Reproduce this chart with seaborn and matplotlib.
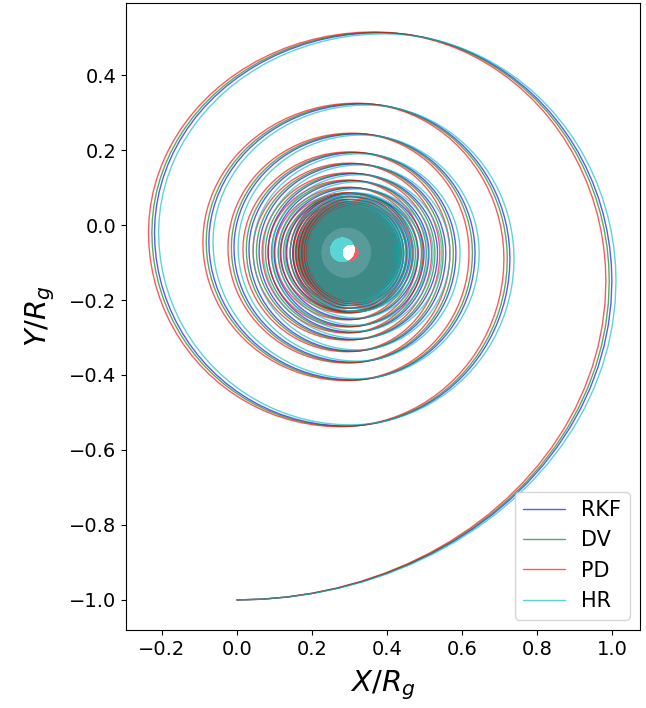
import numpy as np
import pandas as pd
import seaborn as sns
import matplotlib
matplotlib.use("Agg")
import matplotlib.pyplot as plt

sns.set_style("ticks", {"axes.edgecolor": "black", "xtick.color": "black",
                        "ytick.color": "black", "text.color": "black",
                        "axes.labelcolor": "black"})

# PD orbit, outer turns: extreme points
# order: start (bottom), then right, top, left, bottom for each turn
pd_ext_x = [0.000,
            0.984, 0.365, -0.236, 0.275,
            0.712, 0.318, -0.091, 0.292,
            0.619, 0.305, -0.024, 0.294,
            0.568, 0.300, 0.016, 0.294,
            0.541, 0.298, 0.043, 0.294,
            0.519, 0.296, 0.067, 0.293,
            0.496, 0.295, 0.083, 0.292,
            0.483, 0.294, 0.101, 0.292,
            0.467, 0.293, 0.115, 0.292]
pd_ext_y = [-1.000,
            -0.150, 0.515, -0.020, -0.538,
            -0.090, 0.325, -0.045, -0.415,
            -0.075, 0.245, -0.060, -0.368,
            -0.075, 0.195, -0.065, -0.338,
            -0.075, 0.165, -0.070, -0.307,
            -0.075, 0.139, -0.072, -0.288,
            -0.075, 0.120, -0.073, -0.272,
            -0.075, 0.101, -0.074, -0.253,
            -0.075, 0.085, -0.074, -0.235]

methods = ['RKF', 'DV', 'PD', 'HR']
colors = ['b', 'g', 'r', 'c']
# offset of each method from PD on the outer turns
shift_x = [0.016, 0.009, 0.0, 0.027]
shift_ry = [-0.002, -0.001, 0.0, -0.005]

# inner part: orbit radius vs turn number
core_turn = [9, 10, 11, 12, 13, 15, 18, 22, 28, 36, 48, 60, 85, 120, 160, 240]
core_r = [0.175, 0.163, 0.153, 0.145, 0.138, 0.128, 0.118, 0.108, 0.097,
          0.087, 0.077, 0.069, 0.055, 0.043, 0.036, 0.024]

# final centre and radius of each method
end_x = [0.292, 0.290, 0.281, 0.303]
end_y = [-0.074, -0.074, -0.066, -0.074]
end_r = [0.069, 0.069, 0.036, 0.024]


def extremes(k):
    ex = np.array(pd_ext_x, dtype=float)
    ey = np.array(pd_ext_y, dtype=float)
    ex[1:] += shift_x[k]
    idx = np.arange(len(ey))
    ey[(idx % 4 == 2)] += shift_ry[k]
    ey[(idx % 4 == 0) & (idx > 0)] -= shift_ry[k]

    cx0 = (ex[-4] + ex[-2]) / 2
    cy0 = (ey[-3] + ey[-1]) / 2
    t_end = np.interp(end_r[k], core_r[::-1], core_turn[::-1])
    q = np.arange(40, int(t_end * 4) + 1) / 4.0
    r = np.interp(q, core_turn, core_r)
    w = np.clip((q - 9.75) / (t_end - 9.75), 0, 1)
    cx = cx0 + w * (end_x[k] - cx0)
    cy = cy0 + w * (end_y[k] - cy0)
    frac = q % 1
    px = np.where(frac == 0, cx + r, np.where(frac == 0.5, cx - r, cx))
    py = np.where(frac == 0.25, cy + r, np.where(frac == 0.75, cy - r, cy))
    return np.concatenate([ex, px]), np.concatenate([ey, py])


def orbit(ex, ey, n=24):
    # quarter ellipses between consecutive extreme points
    xs, ys = [], []
    for i in range(len(ex) - 1):
        kind = i % 4
        if kind in (0, 2):
            cx, cy = ex[i], ey[i + 1]
        else:
            cx, cy = ex[i + 1], ey[i]
        a = abs(ex[i + 1] - ex[i])
        b = abs(ey[i + 1] - ey[i])
        phi = np.linspace(-np.pi / 2 + kind * np.pi / 2, kind * np.pi / 2, n)
        xs.append(cx + a * np.cos(phi))
        ys.append(cy + b * np.sin(phi))
    return np.concatenate(xs), np.concatenate(ys)


fig = plt.figure(figsize=(6.46, 7.08), dpi=100)
ax = fig.add_axes([126 / 646, 78 / 708, 514 / 646, 627 / 708])

for k, m in enumerate(methods):
    ex, ey = extremes(k)
    x, y = orbit(ex, ey)
    df = pd.DataFrame({'x': x, 'y': y})
    sns.lineplot(data=df, x='x', y='y', sort=False, estimator=None,
                 color=colors[k], alpha=0.65, lw=1.0, label=m, ax=ax)

ax.set_xlim(-0.296, 1.075)
ax.set_ylim(-1.08, 0.592)
ax.set_aspect('equal', adjustable='box')
ax.set_xlabel('$X/R_g$', fontsize=21, labelpad=7)
ax.set_ylabel('$Y/R_g$', fontsize=21, labelpad=9)
ax.tick_params(labelsize=14)
ax.legend(loc='lower right', fontsize=15)

fig.savefig('out.png', dpi=100)
